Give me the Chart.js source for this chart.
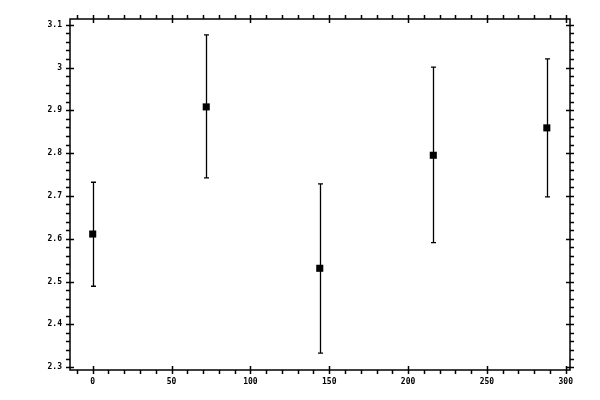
<!DOCTYPE html>
<html>
<head>
<meta charset="utf-8">
<script src="https://cdn.jsdelivr.net/npm/chart.js@4"></script>
<style>
    html, body { margin: 0; padding: 0; background: #fff; }
    #wrap { width: 600px; height: 400px; }
</style>
</head>
<body>
<div id="wrap"><canvas id="errChart"></canvas></div>
<script>
// Data
const xValues = [0, 72, 144, 216, 288];
const yValues = [2.611, 2.908, 2.531, 2.795, 2.859];
const yUpper = [2.732, 3.076, 2.728, 3.001, 3.020];
const yLower = [2.489, 2.742, 2.333, 2.591, 2.698];

const xTicks = [0, 50, 100, 150, 200, 250, 300];
const yTicks = [2.3, 2.4, 2.5, 2.6, 2.7, 2.8, 2.9, 3, 3.1];
const yTickLabels = ['2.3', '2.4', '2.5', '2.6', '2.7', '2.8', '2.9', '3', '3.1'];

const X_MIN = -14.4, X_MAX = 302.7;
const Y_MIN = 2.2934, Y_MAX = 3.1133;
const X_MINOR = 10, Y_MINOR = 0.02;

// Frame with ticks on all four sides, majors cross the frame line
const framePlugin = {
    id: 'frame',
    afterDraw(chart) {
        const { ctx, chartArea: a, scales } = chart;
        const xs = scales.x, ys = scales.y;
        ctx.save();
        ctx.strokeStyle = '#000';
        ctx.lineWidth = 1.5;
        ctx.strokeRect(a.left, a.top, a.right - a.left, a.bottom - a.top);

        ctx.beginPath();
        // x ticks, minor and major
        for (let v = Math.ceil(X_MIN / X_MINOR) * X_MINOR; v <= X_MAX; v += X_MINOR) {
            const px = Math.round(xs.getPixelForValue(v)) + 0.5;
            const major = Math.abs(v % 50) < 1e-6;
            const inner = major ? 4 : 0;
            ctx.moveTo(px, a.bottom - inner); ctx.lineTo(px, a.bottom + 4);
            ctx.moveTo(px, a.top + inner); ctx.lineTo(px, a.top - 4);
        }
        // y ticks
        const n0 = Math.ceil(Y_MIN / Y_MINOR - 1e-6);
        for (let i = n0; i * Y_MINOR <= Y_MAX + 1e-9; i++) {
            const v = i * Y_MINOR;
            const py = Math.round(ys.getPixelForValue(v)) + 0.5;
            const major = i % 5 === 0;
            const inner = major ? 4 : 0;
            ctx.moveTo(a.left + inner, py); ctx.lineTo(a.left - 4, py);
            ctx.moveTo(a.right - inner, py); ctx.lineTo(a.right + 4, py);
        }
        ctx.stroke();
        ctx.restore();
    }
};

// Vertical error bars with caps
const errorBarPlugin = {
    id: 'errorBars',
    beforeDatasetsDraw(chart) {
        const { ctx, scales } = chart;
        ctx.save();
        ctx.strokeStyle = '#000';
        ctx.lineWidth = 1.3;
        ctx.beginPath();
        xValues.forEach((x, i) => {
            const px = Math.round(scales.x.getPixelForValue(x)) + 0.5;
            const top = scales.y.getPixelForValue(yUpper[i]);
            const bot = scales.y.getPixelForValue(yLower[i]);
            ctx.moveTo(px, top); ctx.lineTo(px, bot);
            ctx.moveTo(px - 2.5, top); ctx.lineTo(px + 2.5, top);
            ctx.moveTo(px - 2.5, bot); ctx.lineTo(px + 2.5, bot);
        });
        ctx.stroke();
        ctx.restore();
    }
};

const tickFont = { family: 'DejaVu Sans Mono', size: 8, weight: 'bold' };

new Chart(document.getElementById('errChart'), {
    type: 'scatter',
    data: {
        datasets: [{
            data: xValues.map((x, i) => ({ x: x, y: yValues[i] })),
            pointStyle: 'rect',
            pointRadius: 5,
            pointHoverRadius: 5,
            backgroundColor: '#000',
            borderColor: '#000',
            borderWidth: 0
        }]
    },
    options: {
        responsive: true,
        maintainAspectRatio: false,
        animation: false,
        events: [],
        layout: { padding: { top: 19, right: 30, left: 0, bottom: 0 } },
        plugins: { legend: { display: false }, tooltip: { enabled: false } },
        scales: {
            x: {
                type: 'linear',
                min: X_MIN,
                max: X_MAX,
                afterBuildTicks: s => { s.ticks = xTicks.map(v => ({ value: v })); },
                afterFit: s => { s.height = 30; },
                grid: { display: false, drawTicks: false },
                border: { display: false },
                ticks: {
                    autoSkip: false,
                    maxRotation: 0,
                    padding: 7,
                    color: '#000',
                    font: tickFont,
                    callback: v => String(v)
                }
            },
            y: {
                type: 'linear',
                min: Y_MIN,
                max: Y_MAX,
                afterBuildTicks: s => { s.ticks = yTicks.map(v => ({ value: v })); },
                afterFit: s => { s.width = 70; },
                grid: { display: false, drawTicks: false },
                border: { display: false },
                ticks: {
                    autoSkip: false,
                    padding: 8,
                    color: '#000',
                    font: tickFont,
                    callback: function(v, idx) { return yTickLabels[idx]; }
                }
            }
        }
    },
    plugins: [framePlugin, errorBarPlugin]
});
</script>
</body>
</html>
